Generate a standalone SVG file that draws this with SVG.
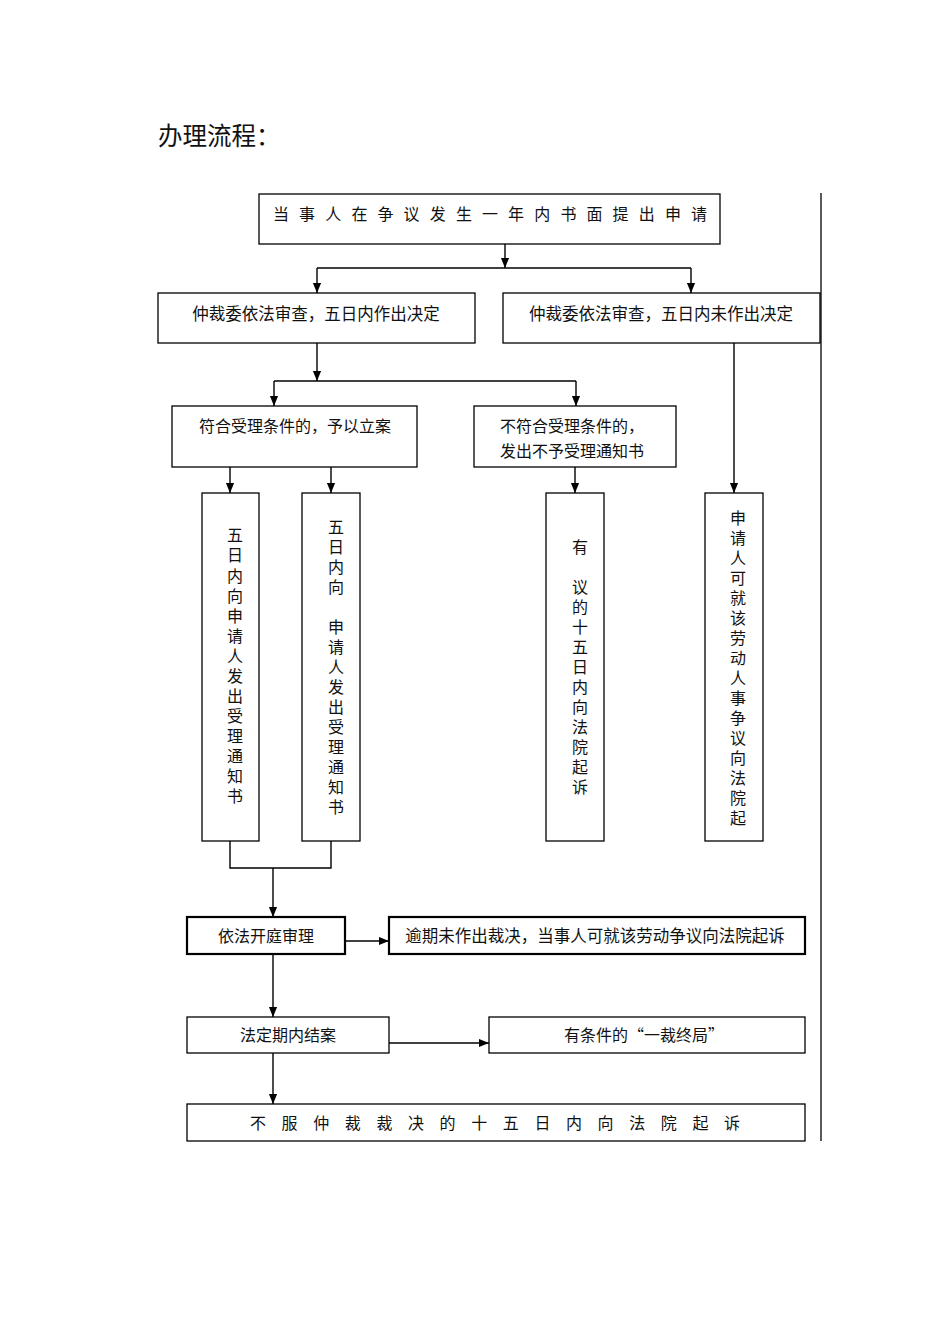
<svg xmlns="http://www.w3.org/2000/svg" width="950" height="1344" viewBox="0 0 950 1344">
<style>
text{font-family:"Noto Sans CJK SC","Noto Sans CJK JP",sans-serif;font-size:16px;fill:#111}
.box{fill:#fff;stroke:#000;stroke-width:1.3}
.bold{stroke-width:2.2}
.c{text-anchor:middle}
.ln{fill:none;stroke:#000;stroke-width:1.4}
.ar{fill:none;stroke:#000;stroke-width:1.4;marker-end:url(#ah)}
</style>
<defs>
<marker id="ah" markerUnits="userSpaceOnUse" markerWidth="10" markerHeight="11" refX="11" refY="5" orient="auto" viewBox="0 0 11 10">
<path d="M0,0.5 L11,5 L0,9.5 z" fill="#000"/>
</marker>
</defs>
<rect width="950" height="1344" fill="#fff"/>
<text x="158" y="145" style="font-size:24.5px">办理流程：</text>
<line x1="821" y1="193" x2="821" y2="1141" stroke="#000" stroke-width="1.3"/>

<g id="connectors">
<line class="ar" x1="505" y1="244" x2="505" y2="268"/>
<polyline class="ln" points="317,268 691,268"/>
<line class="ar" x1="317" y1="268" x2="317" y2="293"/>
<line class="ar" x1="691" y1="268" x2="691" y2="293"/>
<line class="ar" x1="317" y1="343" x2="317" y2="381"/>
<polyline class="ln" points="274,381 576,381"/>
<line class="ar" x1="274" y1="381" x2="274" y2="406"/>
<line class="ar" x1="576" y1="381" x2="576" y2="406"/>
<line class="ar" x1="230" y1="467" x2="230" y2="493"/>
<line class="ar" x1="331" y1="467" x2="331" y2="493"/>
<line class="ar" x1="575" y1="467" x2="575" y2="493"/>
<line class="ar" x1="734" y1="343" x2="734" y2="493"/>
<polyline class="ln" points="230,841 230,868 331,868 331,841"/>
<line class="ar" x1="273" y1="868" x2="273" y2="917"/>
<line class="ar" x1="345" y1="941" x2="389" y2="941"/>
<line class="ar" x1="273" y1="954" x2="273" y2="1017"/>
<line class="ar" x1="389" y1="1043" x2="489" y2="1043"/>
<line class="ar" x1="273" y1="1053" x2="273" y2="1104"/>
</g>

<g id="n1">
<rect class="box" x="259" y="194" width="461" height="50"/>
<text x="273 299.1 325.2 351.4 377.5 403.6 429.8 455.9 482 508.1 534.2 560.4 586.5 612.6 638.8 664.9 691" y="220">当事人在争议发生一年内书面提出申请</text>
</g>
<g id="n2">
<rect class="box" x="158" y="293" width="317" height="50"/>
<text class="c" x="316" y="320" style="font-size:16.5px">仲裁委依法审查，五日内作出决定</text>
</g>
<g id="n3">
<rect class="box" x="503" y="293" width="317" height="50"/>
<text class="c" x="661" y="320" style="font-size:16.5px">仲裁委依法审查，五日内未作出决定</text>
</g>
<g id="n4">
<rect class="box" x="172" y="406" width="245" height="61"/>
<text class="c" x="295" y="432">符合受理条件的，予以立案</text>
</g>
<g id="n5">
<rect class="box" x="474" y="406" width="202" height="61"/>
<text x="500" y="432">不符合受理条件的，</text>
<text x="500" y="457">发出不予受理通知书</text>
</g>
<g id="n6">
<rect class="box" x="202" y="493" width="57" height="348"/>
<text class="c" x="235 235 235 235 235 235 235 235 235 235 235 235 235 235" y="541 561 582 602 622 642 662 682 702 722 742 762 782 802">五日内向申请人发出受理通知书</text>
</g>
<g id="n7">
<rect class="box" x="302" y="493" width="58" height="348"/>
<text class="c" x="336 336 336 336 336 336 336 336 336 336 336 336 336 336" y="533 553 573 593 633 653 673 693 713 733 753 773 793 813">五日内向申请人发出受理通知书</text>
</g>
<g id="n8">
<rect class="box" x="546" y="493" width="58" height="348"/>
<text class="c" x="580 580 580 580 580 580 580 580 580 580 580 580" y="553 593 613 633 653 673 693 713 733 753 773 793">有议的十五日内向法院起诉</text>
</g>
<g id="n9">
<rect class="box" x="705" y="493" width="58" height="348"/>
<text class="c" x="738 738 738 738 738 738 738 738 738 738 738 738 738 738 738 738" y="524 544 564 584 604 624 644 664 684 704 724 744 764 784 804 824">申请人可就该劳动人事争议向法院起</text>
</g>
<g id="n10">
<rect class="box bold" x="187" y="917" width="158" height="37"/>
<text class="c" x="266" y="942">依法开庭审理</text>
</g>
<g id="n11">
<rect class="box bold" x="389" y="917" width="416" height="37"/>
<text class="c" x="595" y="942" style="font-size:16.5px">逾期未作出裁决，当事人可就该劳动争议向法院起诉</text>
</g>
<g id="n12">
<rect class="box" x="187" y="1017" width="202" height="36"/>
<text class="c" x="288" y="1041">法定期内结案</text>
</g>
<g id="n13">
<rect class="box" x="489" y="1017" width="316" height="36"/>
<text class="c" x="644" y="1041">有条件的“一裁终局”</text>
</g>
<g id="n14">
<rect class="box" x="187" y="1104" width="618" height="37"/>
<text x="250 281.6 313.2 344.8 376.4 408 439.6 471.2 502.8 534.4 566 597.6 629.2 660.8 692.4 724" y="1129">不服仲裁裁决的十五日内向法院起诉</text>
</g>
</svg>
